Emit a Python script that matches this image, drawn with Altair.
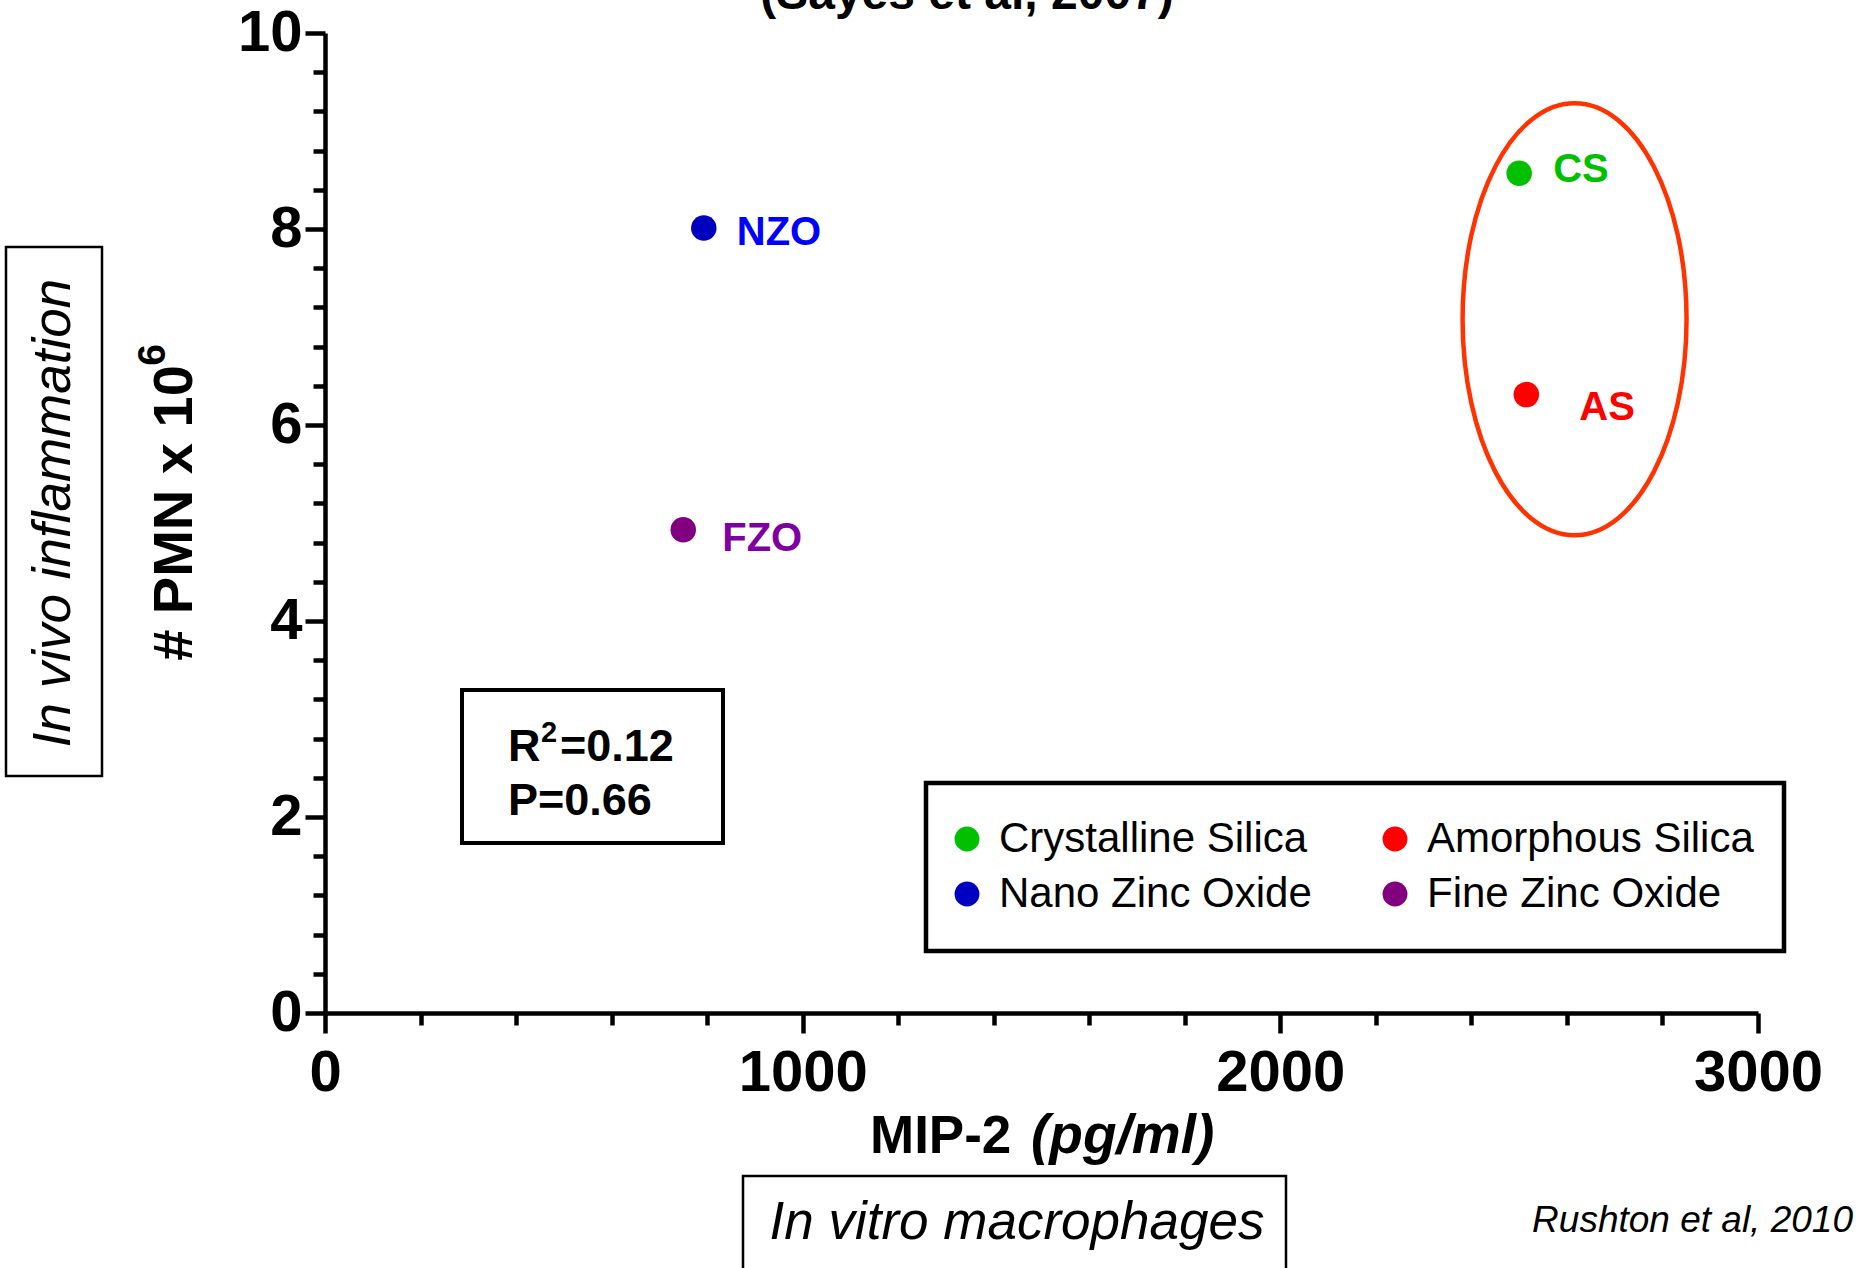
import altair as alt
import pandas as pd

FONT = "Liberation Sans"

# ---------------- data ----------------
materials = ["Crystalline Silica", "Amorphous Silica", "Nano Zinc Oxide", "Fine Zinc Oxide"]
abbrevs = ["CS", "AS", "NZO", "FZO"]
mip2 = [2500, 2515, 793, 750]          # MIP-2 (pg/ml)
pmn = [8.57, 6.31, 8.01, 4.93]         # # PMN x 10^6
dot_colors = ["#00C000", "#FF0000", "#0000C0", "#800080"]
label_colors = ["#00C000", "#FF0000", "#0000FF", "#7F00A0"]
label_dx = [34, 53, 33, 39]
label_dy = [9, 25, 17, 21]

x_ticks = [0, 200, 400, 600, 800, 1000, 1200, 1400, 1600, 1800, 2000,
           2200, 2400, 2600, 2800, 3000]
y_ticks = [0, 0.4, 0.8, 1.2, 1.6, 2, 2.4, 2.8, 3.2, 3.6, 4, 4.4, 4.8, 5.2,
           5.6, 6, 6.4, 6.8, 7.2, 7.6, 8, 8.4, 8.8, 9.2, 9.6, 10]

ellipse_center = [2616, 7.08]
stats_lines = ["R", "2", "=0.12", "P=0.66"]

df = pd.DataFrame({"material": materials, "abbrev": abbrevs, "mip2": mip2, "pmn": pmn})
ell = pd.DataFrame({"mip2": [ellipse_center[0]], "pmn": [ellipse_center[1]]})
one = pd.DataFrame({"k": [0]})

W, H = 1433, 980

xscale = alt.Scale(domain=[0, 3000], nice=False, zero=True)
yscale = alt.Scale(domain=[0, 10], nice=False, zero=True)

axis_common = dict(
    grid=False, title=None, domainColor="black", domainWidth=4.5,
    tickColor="black", tickWidth=4.5, labelFont=FONT, labelFontSize=58,
    labelFontWeight="bold", labelColor="black", labelFlush=False,
    labelOverlap=False, tickCount=200,
)
x_axis = alt.Axis(
    values=x_ticks,
    labelExpr="datum.value % 1000 === 0 ? format(datum.value, 'd') : ''",
    tickSize={"condition": {"test": "datum.value % 1000 === 0", "value": 20}, "value": 12},
    labelPadding=11,
    tickMinStep=1,
    **axis_common,
)
y_axis = alt.Axis(
    values=y_ticks,
    labelExpr="datum.value % 2 === 0 ? format(datum.value, 'd') : ''",
    tickSize={"condition": {"test": "datum.value % 2 === 0", "value": 20}, "value": 12},
    labelPadding=3,
    tickMinStep=0.01,
    **axis_common,
)

# ellipse annotation around the silica points
ellipse_path = ("M0,-1C0.2864,-1 0.5185,-0.5523 0.5185,0C0.5185,0.5523 0.2864,1 0,1"
                "C-0.2864,1 -0.5185,0.5523 -0.5185,0C-0.5185,-0.5523 -0.2864,-1 0,-1Z")
ellipse = alt.Chart(ell).mark_point(
    shape=ellipse_path, size=186624, filled=False, color="#FF3300",
    strokeWidth=4.5, opacity=1,
).encode(
    x=alt.X("mip2:Q", scale=xscale, axis=x_axis),
    y=alt.Y("pmn:Q", scale=yscale, axis=y_axis),
)

points = alt.Chart(df).mark_circle(size=650, opacity=1).encode(
    x=alt.X("mip2:Q", scale=xscale, axis=x_axis),
    y=alt.Y("pmn:Q", scale=yscale, axis=y_axis),
    color=alt.Color(
        "material:N",
        scale=alt.Scale(domain=materials, range=dot_colors),
        legend=alt.Legend(
            title=None, orient="none", legendX=621, legendY=785, columns=2,
            direction="horizontal",
            symbolType="circle", symbolSize=620, symbolStrokeWidth=0,
            symbolOpacity=1, labelFont=FONT, labelFontSize=42,
            labelColor="black", labelLimit=0, labelOffset=11,
            columnPadding=62, rowPadding=13, padding=0,
        ),
    ),
)

labels = []
for ab, c, dx, dy in zip(abbrevs, label_colors, label_dx, label_dy):
    labels.append(
        alt.Chart(df).transform_filter(alt.datum.abbrev == ab).mark_text(
            align="left", baseline="alphabetic", dx=dx, dy=dy, font=FONT,
            fontSize=40, fontWeight="bold", color=c,
        ).encode(
            x=alt.X("mip2:Q", scale=xscale, axis=x_axis),
            y=alt.Y("pmn:Q", scale=yscale, axis=y_axis),
            text="abbrev:N",
        )
    )


def note(text, x, y, size, weight="normal", style="normal", align="left", angle=0):
    return alt.Chart(one).mark_text(
        text=text, align=align, baseline="alphabetic", font=FONT, fontSize=size,
        fontWeight=weight, fontStyle=style, angle=angle, color="black",
    ).encode(x=alt.value(x), y=alt.value(y))


def box(x1, x2, y1, y2, sw=4):
    return alt.Chart(one).mark_rect(
        fillOpacity=0, stroke="black", strokeWidth=sw,
    ).encode(x=alt.value(x1), x2=alt.value(x2), y=alt.value(y1), y2=alt.value(y2))


notes = [
    note("(Sayes et al, 2007)", 642, -24, 48, weight="bold", align="center"),
    note("# PMN x 10", -133, 480, 56, weight="bold", align="center", angle=270),
    note("6", -160, 322, 39, weight="bold", align="center", angle=270),
    note("In vivo inflammation", -255, 480, 53, style="italic", align="center", angle=270),
    box(-319, -223, 214, 743, sw=2.5),
    note("MIP-2", 545, 1120, 53, weight="bold"),
    note("(pg/ml)", 706, 1120, 55, weight="bold", style="italic"),
    note("In vitro macrophages", 692, 1206, 53, style="italic", align="center"),
    box(418, 961, 1143, 1300, sw=2.5),
    note("Rushton et al, 2010", 1528, 1199, 37, style="italic", align="right"),
    box(137, 398, 657, 810, sw=4),
    note(stats_lines[0], 183, 728, 45, weight="bold"),
    note(stats_lines[1], 216, 709, 29, weight="bold"),
    note(stats_lines[2], 235, 728, 45, weight="bold"),
    note(stats_lines[3], 183, 782, 45, weight="bold"),
    box(601, 1459, 750, 918, sw=4.5),
]

chart = alt.layer(ellipse, points, *labels, *notes).properties(
    width=W, height=H,
    autosize=alt.AutoSizeParams(type="none"),
    padding={"left": 325, "top": 33, "right": 110, "bottom": 255},
    background="white",
).configure_view(stroke=None)

chart.save("out.html", embed_options={"renderer": "svg", "actions": False})
